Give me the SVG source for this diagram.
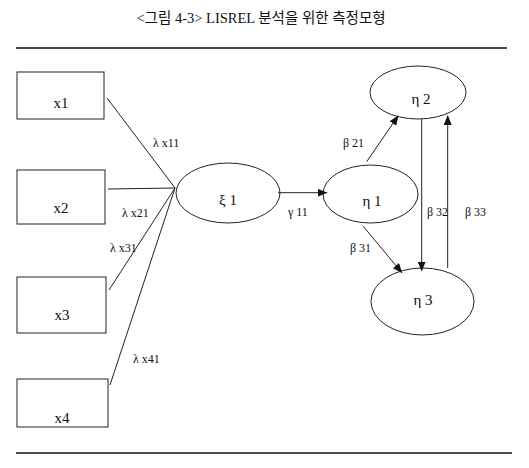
<svg xmlns="http://www.w3.org/2000/svg" width="529" height="468" viewBox="0 0 529 468">
<defs>
<style>
.t{font-family:"Liberation Serif","Noto Sans CJK KR",serif;fill:#111;}
.node rect,.node ellipse{fill:none;stroke:#222;stroke-width:1;}
.lbl{font-family:"Liberation Serif",serif;font-size:12px;fill:#111;}
.nt{font-family:"Liberation Serif",serif;font-size:15px;fill:#111;text-anchor:middle;}
.c line{stroke:#222;stroke-width:1;}
.rule{stroke:#111;stroke-width:1.5;}
</style>
<marker id="ah" markerWidth="10" markerHeight="8" refX="9" refY="4" orient="auto" markerUnits="userSpaceOnUse">
<path d="M0,0 L10,4 L0,8 Z" fill="#111"/>
</marker>
</defs>
<rect width="529" height="468" fill="#fff"/>
<text class="t" x="261" y="23" font-size="14.5" text-anchor="middle">&lt;그림 4-3&gt; LISREL 분석을 위한 측정모형</text>
<line class="rule" x1="16" y1="48" x2="507" y2="48"/>
<line class="rule" x1="16" y1="453" x2="512" y2="453"/>

<g id="x1" class="node"><rect x="17" y="72" width="87" height="47"/><text class="nt" x="61" y="108">x1</text></g>
<g id="x2" class="node"><rect x="17" y="170" width="88" height="54"/><text class="nt" x="61" y="213">x2</text></g>
<g id="x3" class="node"><rect x="17" y="277" width="89" height="56"/><text class="nt" x="62" y="320">x3</text></g>
<g id="x4" class="node"><rect x="17" y="379" width="91" height="48"/><text class="nt" x="62" y="423">x4</text></g>
<g id="xi1" class="node"><ellipse cx="228" cy="193" rx="52" ry="30"/><text class="nt" x="228" y="205">ξ 1</text></g>
<g id="eta1" class="node"><ellipse cx="370.5" cy="194" rx="47.5" ry="29"/><text class="nt" x="372" y="206">η 1</text></g>
<g id="eta2" class="node"><ellipse cx="418" cy="92.5" rx="48" ry="26.5"/><text class="nt" x="421" y="104">η 2</text></g>
<g id="eta3" class="node"><ellipse cx="422.5" cy="301.5" rx="51.5" ry="33.5"/><text class="nt" x="423" y="305">η 3</text></g>

<g id="connectors" class="c">
<line x1="107" y1="98" x2="175" y2="188"/>
<line x1="108" y1="189" x2="175" y2="188"/>
<line x1="109" y1="290" x2="175" y2="188"/>
<line x1="110" y1="385" x2="175" y2="188"/>
<line x1="278" y1="192.7" x2="326.5" y2="192.7" marker-end="url(#ah)"/>
<line x1="366.7" y1="161.7" x2="398" y2="116" marker-end="url(#ah)"/>
<line x1="363" y1="226" x2="401.7" y2="272.5" marker-end="url(#ah)"/>
<line x1="421.7" y1="119" x2="421.7" y2="270.5" marker-end="url(#ah)"/>
<line x1="447.7" y1="268" x2="447.7" y2="116" marker-end="url(#ah)"/>
</g>

<g id="labels">
<text class="lbl" x="153" y="147">λ x11</text>
<text class="lbl" x="122" y="217">λ x21</text>
<text class="lbl" x="110" y="252">λ x31</text>
<text class="lbl" x="133" y="363">λ x41</text>
<text class="lbl" x="288" y="216">γ 11</text>
<text class="lbl" x="343" y="147">β 21</text>
<text class="lbl" x="350" y="252">β 31</text>
<text class="lbl" x="427" y="216">β 32</text>
<text class="lbl" x="465" y="216">β 33</text>
</g>
</svg>
